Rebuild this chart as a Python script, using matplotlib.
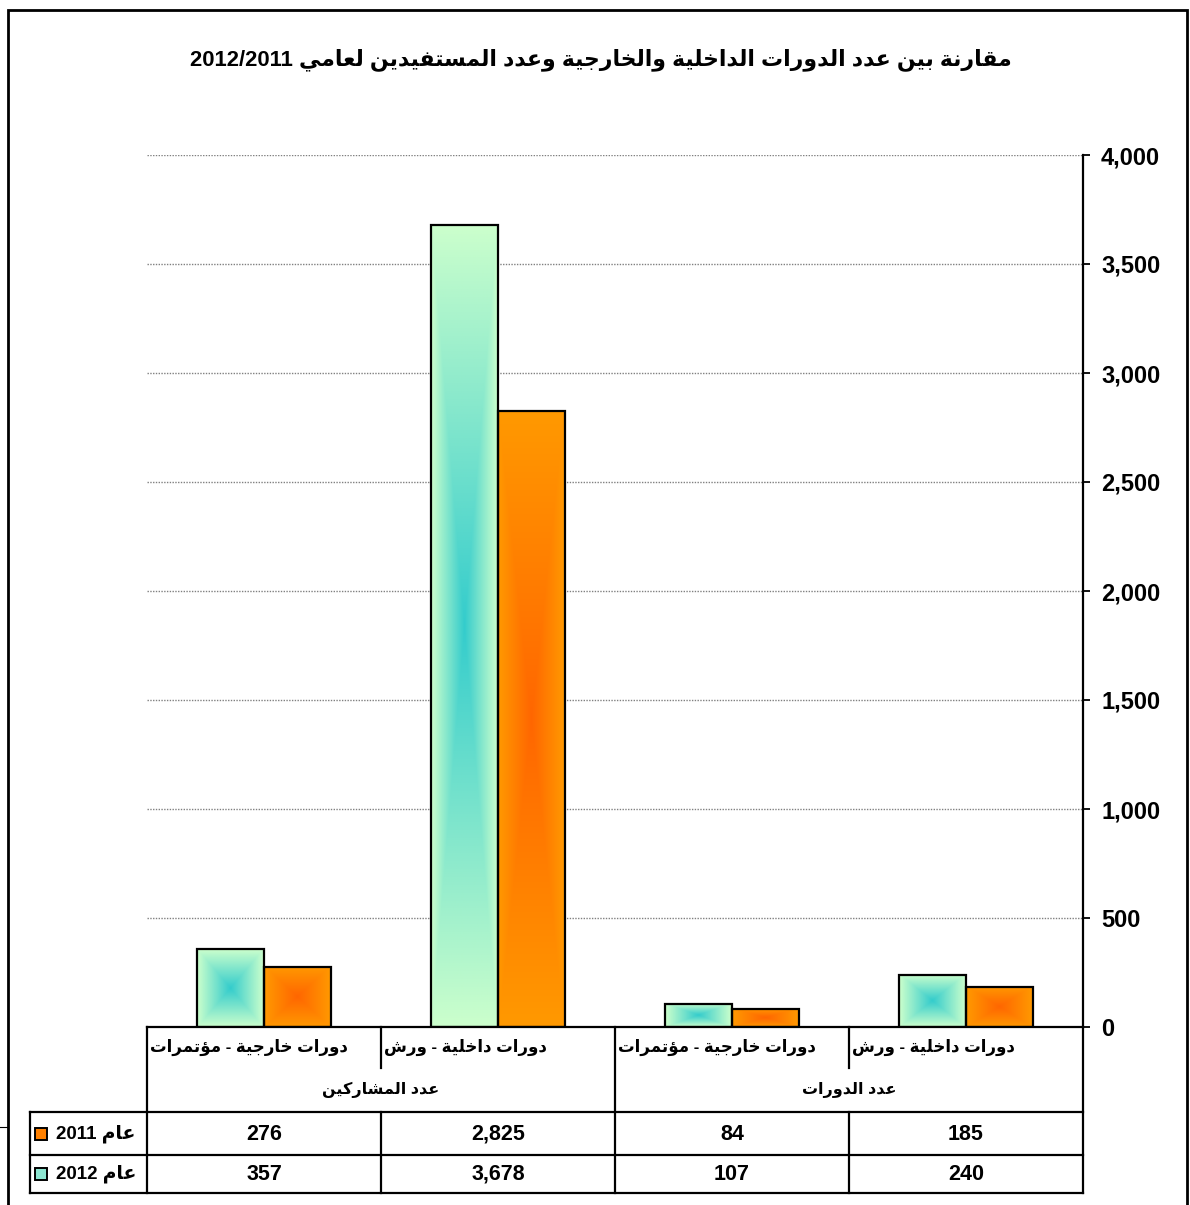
import re
import numpy as np
import matplotlib
matplotlib.use("Agg")
import matplotlib.pyplot as plt
from matplotlib.patches import Rectangle
from matplotlib.lines import Line2D
from matplotlib.transforms import blended_transform_factory

# ---------------- data (logical / right-to-left order) ----------------
title = "مقارنة بين عدد الدورات الداخلية والخارجية وعدد المستفيدين لعامي 2012/2011"
categories = ["دورات داخلية - ورش", "دورات خارجية - مؤتمرات",
              "دورات داخلية - ورش", "دورات خارجية - مؤتمرات"]
groups = ["عدد الدورات", "عدد المشاركين"]
series_names = ["عام 2011", "عام 2012"]
values_2011 = [185, 84, 2825, 276]
values_2012 = [240, 107, 3678, 357]
yticks = [0, 500, 1000, 1500, 2000, 2500, 3000, 3500, 4000]

# ---------------- minimal Arabic shaping + bidi ----------------
FORMS = {'ء': (0xFE80, 1), 'آ': (0xFE81, 2), 'أ': (0xFE83, 2), 'ؤ': (0xFE85, 2),
         'إ': (0xFE87, 2), 'ئ': (0xFE89, 4), 'ا': (0xFE8D, 2), 'ب': (0xFE8F, 4),
         'ة': (0xFE93, 2), 'ت': (0xFE95, 4), 'ث': (0xFE99, 4), 'ج': (0xFE9D, 4),
         'ح': (0xFEA1, 4), 'خ': (0xFEA5, 4), 'د': (0xFEA9, 2), 'ذ': (0xFEAB, 2),
         'ر': (0xFEAD, 2), 'ز': (0xFEAF, 2), 'س': (0xFEB1, 4), 'ش': (0xFEB5, 4),
         'ص': (0xFEB9, 4), 'ض': (0xFEBD, 4), 'ط': (0xFEC1, 4), 'ظ': (0xFEC5, 4),
         'ع': (0xFEC9, 4), 'غ': (0xFECD, 4), 'ف': (0xFED1, 4), 'ق': (0xFED5, 4),
         'ك': (0xFED9, 4), 'ل': (0xFEDD, 4), 'م': (0xFEE1, 4), 'ن': (0xFEE5, 4),
         'ه': (0xFEE9, 4), 'و': (0xFEED, 2), 'ى': (0xFEEF, 2), 'ي': (0xFEF1, 4)}
LAMALEF = {'آ': 0xFEF5, 'أ': 0xFEF7, 'إ': 0xFEF9, 'ا': 0xFEFB}


def shape(s):
    out = []
    n = len(s)
    i = 0
    while i < n:
        c = s[i]
        f = FORMS.get(c)
        if f is None:
            out.append(c)
            i += 1
            continue
        pf = FORMS.get(s[i - 1]) if i > 0 else None
        jp = pf is not None and pf[1] == 4 and f[1] >= 2
        if c == 'ل' and i + 1 < n and s[i + 1] in LAMALEF:
            out.append(chr(LAMALEF[s[i + 1]] + (1 if jp else 0)))
            i += 2
            continue
        nf = FORMS.get(s[i + 1]) if i + 1 < n else None
        jn = f[1] == 4 and nf is not None and nf[1] >= 2
        base, k = f
        if k == 1:
            out.append(chr(base))
        elif jp and jn:
            out.append(chr(base + 3))
        elif jp:
            out.append(chr(base + 1))
        elif jn:
            out.append(chr(base + 2))
        else:
            out.append(chr(base))
        i += 1
    return ''.join(out)


def ar(s):
    sh = shape(s)
    runs = re.findall(r'\d[\d/,.]*\d|\d|[^\d]+', sh)
    return ''.join(r if r[0].isdigit() else r[::-1] for r in reversed(runs))


# ---------------- figure ----------------
W, H = 1190, 1205
FAM = ['Liberation Sans', 'DejaVu Sans']
plt.rcParams['font.family'] = FAM
plt.rcParams['font.weight'] = 'bold'

fig = plt.figure(figsize=(W / 100, H / 100), dpi=100)
fig.patch.set_facecolor('white')


def fy(y):
    return 1 - y / H


ax_left, ax_right, ax_top, ax_bottom = 147, 1083, 155, 1027
ax = fig.add_axes([ax_left / W, fy(ax_bottom), (ax_right - ax_left) / W,
                   (ax_bottom - ax_top) / H])

n = len(categories)
xpos = np.array([n - 0.5 - i for i in range(n)])  # right-to-left
bw = 0.286

edge_2012, center_2012 = np.array([0.80, 1.0, 0.80]), np.array([0.20, 0.80, 0.80])
edge_2011, center_2011 = np.array([1.0, 0.60, 0.0]), np.array([1.0, 0.40, 0.0])

bars12 = ax.bar(xpos - bw / 2, values_2012, bw, facecolor='none',
                edgecolor='black', linewidth=1.6, zorder=3)
bars11 = ax.bar(xpos + bw / 2, values_2011, bw, facecolor='none',
                edgecolor='black', linewidth=1.6, zorder=3)


def grad_fill(rect, edge, center):
    x, y = rect.get_x(), rect.get_y()
    w, h = rect.get_width(), rect.get_height()
    u = np.linspace(-1, 1, 80)
    v = np.linspace(-1, 1, 400)
    U, V = np.meshgrid(u, v)
    t = np.maximum(np.abs(U), np.abs(V))[..., None]
    img = center[None, None, :] * (1 - t) + edge[None, None, :] * t
    im = ax.imshow(img, extent=[x, x + w, y, y + h], origin='lower',
                   aspect='auto', zorder=2, interpolation='bilinear')
    im.set_clip_path(rect)


for r in bars12:
    grad_fill(r, edge_2012, center_2012)
for r in bars11:
    grad_fill(r, edge_2011, center_2011)

ax.set_xlim(0, n)
ax.set_ylim(0, 4000)
ax.set_xticks([])
ax.yaxis.tick_right()
ax.set_yticks(yticks)
ax.set_yticklabels([f"{v:,}" for v in yticks], fontsize=17,
                   fontweight='bold', family=FAM)
ax.tick_params(axis='y', direction='out', length=5, width=1.3, pad=8,
               colors='black')
ax.grid(axis='y', color='#808080', linestyle=(0, (1, 1)), linewidth=1.0)
ax.set_axisbelow(True)
for s in ['left', 'top']:
    ax.spines[s].set_visible(False)
ax.spines['right'].set_linewidth(1.6)
ax.spines['bottom'].set_linewidth(1.6)

# ---------------- title ----------------
fig.text(601 / W, fy(60), ar(title), ha='center', va='center',
         fontsize=15.8, fontweight='bold', family=FAM)

# ---------------- data table ----------------
tr = blended_transform_factory(ax.transData, fig.transFigure)
lw = 1.6
r_cat, r_grp, r_a, r_b, r_end = 1027, 1068, 1112, 1155, 1193


def hline(y, x0, x1):
    fig.add_artist(Line2D([x0, x1], [fy(y), fy(y)], transform=tr,
                          color='black', lw=lw, clip_on=False))


def vline(x, y0, y1):
    fig.add_artist(Line2D([x, x], [fy(y0), fy(y1)], transform=tr,
                          color='black', lw=lw, clip_on=False))


for y in (r_a, r_b, r_end):
    hline(y, -0.5, n)
vline(-0.5, r_a, r_end)
vline(0, r_cat, r_end)
vline(n, r_cat, r_end)
vline(n / 2, r_cat, r_end)
for xb in (1, 3):
    vline(xb, r_cat, r_grp)
    vline(xb, r_a, r_end)

# category labels (left aligned in their cell)
for i, c in enumerate(categories):
    fig.text(xpos[i] - 0.5 + 0.014, fy(1047), ar(c), transform=tr,
             ha='left', va='center', fontsize=12, fontweight='bold', family=FAM)
# group labels
for g, gi in zip(groups, range(len(groups))):
    xc = n - 1 - 2 * gi
    fig.text(xc, fy(1090), ar(g), transform=tr, ha='center', va='center',
             fontsize=11.5, fontweight='bold', family=FAM)
# values
for i in range(n):
    fig.text(xpos[i], fy(1134), f"{values_2011[i]:,}", transform=tr,
             ha='center', va='center', fontsize=15.5, fontweight='bold', family=FAM)
    fig.text(xpos[i], fy(1174), f"{values_2012[i]:,}", transform=tr,
             ha='center', va='center', fontsize=15.5, fontweight='bold', family=FAM)

# legend keys
key_colors = [(1.0, 0.50, 0.0), (0.55, 0.90, 0.82)]
for name, col, yc in zip(series_names, key_colors, (1134, 1174)):
    fig.add_artist(Rectangle((35 / W, fy(yc + 6)), 12 / W, 12 / H,
                             transform=fig.transFigure, facecolor=col,
                             edgecolor='black', lw=1.4, clip_on=False))
    fig.text(56 / W, fy(yc), ar(name), ha='left', va='center',
             fontsize=13.5, fontweight='bold', family=FAM)

# chart border
fig.add_artist(Rectangle((8 / W, fy(1230)), 1179 / W, 1220 / H,
                         transform=fig.transFigure, fill=False,
                         edgecolor='black', lw=2.0, clip_on=False))
fig.add_artist(Line2D([0, 8 / W], [fy(1127), fy(1127)], transform=fig.transFigure,
                      color='black', lw=0.8))

fig.savefig('out.png', dpi=100)
